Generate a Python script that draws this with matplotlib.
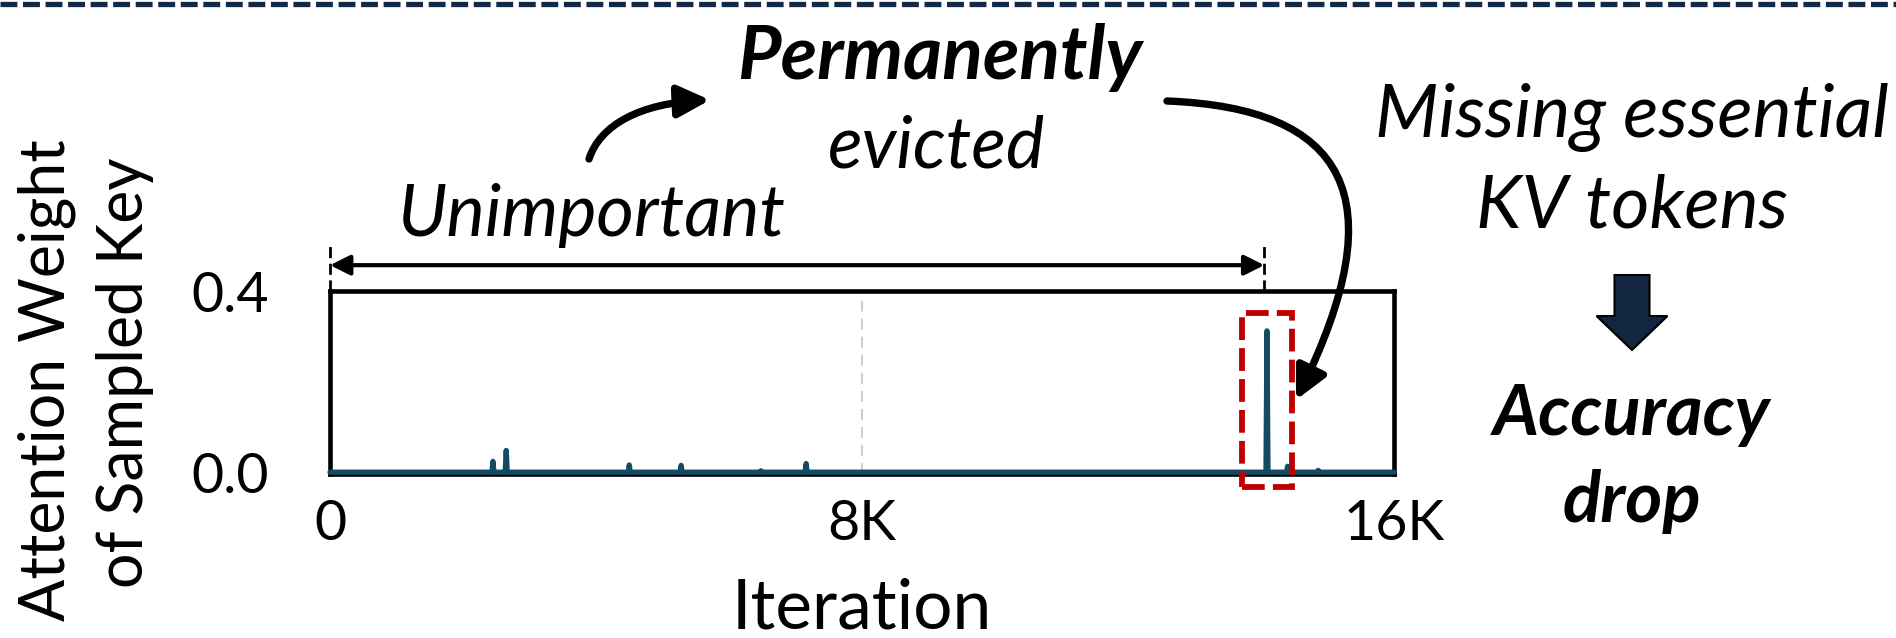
import matplotlib
matplotlib.use('agg')
import matplotlib.pyplot as plt
from matplotlib.patches import FancyArrowPatch, Polygon, Rectangle
from matplotlib.lines import Line2D
from matplotlib.path import Path

plt.rcParams['font.family'] = ['Lato', 'DejaVu Sans']

# spikes: iteration, attention weight
spike_iters = [2450, 2650, 4500, 5280, 6480, 7160, 14090, 14400, 14860]
spike_weights = [0.024, 0.048, 0.016, 0.015, 0.003, 0.019, 0.312, 0.013, 0.004]
iter_max = 16000
xtick_vals = [0, 8000, 16000]
xtick_labels = ['0', '8K', '16K']
ytick_vals = [0.0, 0.4]
ytick_labels = ['0.0', '0.4']

# zero baseline with the spikes on it
half_w = 15
xs, ys = [0], [0.0]
for it, w in zip(spike_iters, spike_weights):
    xs += [it - half_w, it, it + half_w]
    ys += [0.0, w, 0.0]
xs.append(iter_max)
ys.append(0.0)

W, H = 1896, 638
fig = plt.figure(figsize=(W / 100, H / 100), dpi=100)


def px(x, y):
    # full-image pixel (y down) -> figure fraction
    return x / W, 1 - y / H


ax = fig.add_axes([330 / W, 1 - 474 / H, 1064 / W, 183 / H])
ax.plot(xs, ys, color='#154a65', lw=3.8, solid_capstyle='round',
        solid_joinstyle='round', zorder=3, clip_on=False)
ax.axvline(8000, color='#c8c8c8', lw=1.3, ls=(0, (6, 4)), zorder=1)
ax.set_xlim(0, iter_max)
ax.set_ylim(-0.004, 0.4)
ax.set_xticks(xtick_vals)
ax.set_xticklabels(xtick_labels)
ax.set_yticks(ytick_vals)
ax.set_yticklabels(ytick_labels)
ax.tick_params(length=0, labelsize=40)
ax.tick_params(axis='y', pad=44)
ax.tick_params(axis='x', pad=18)
for s in ax.spines.values():
    s.set_linewidth(3.3)
ax.set_xlabel('Iteration', fontsize=50, labelpad=20)

# y label, two lines drawn separately
fig.text(*px(65, 380), 'Attention Weight', rotation=90, rotation_mode='anchor',
         ha='center', va='baseline', fontsize=45)
fig.text(*px(143, 373), 'of Sampled Key', rotation=90, rotation_mode='anchor',
         ha='center', va='baseline', fontsize=45)

# red dashed box around the big spike
ax.add_patch(Rectangle((13710, -0.033), 750, 0.384, fill=False,
                       edgecolor='#c00000', lw=4.2, ls=(0, (3.9, 1.4)),
                       clip_on=False, zorder=4))

# double arrow over the "Unimportant" span
arr_y = 0.457
ax.annotate('', xy=(0, arr_y), xytext=(14050, arr_y),
            xycoords='data', textcoords='data', annotation_clip=False,
            arrowprops=dict(arrowstyle='<|-|>', lw=3, color='black',
                            mutation_scale=30, shrinkA=0, shrinkB=0))
for xv in [0, 14050]:
    ax.add_line(Line2D([xv, xv], [0.4, 0.5], color='black', lw=2,
                       ls=(0, (4, 2)), clip_on=False))

# top dashed separator
fig.add_artist(Line2D([0, 1], [1 - 3.5 / H, 1 - 3.5 / H], color='#112a45',
                      lw=3.8, ls=(0, (3.2, 1.07)), solid_capstyle='butt'))

# texts
fig.text(*px(591, 236), 'Unimportant', style='italic', fontsize=52,
         ha='center', va='baseline')
fig.text(*px(940, 79), 'Permanently', style='italic', weight='bold',
         fontsize=54, ha='center', va='baseline')
fig.text(*px(937, 168), 'evicted', style='italic', fontsize=52,
         ha='center', va='baseline')
fig.text(*px(1632, 137), 'Missing essential', style='italic', fontsize=53,
         ha='center', va='baseline')
fig.text(*px(1632, 227), 'KV tokens', style='italic', fontsize=53,
         ha='center', va='baseline')
fig.text(*px(1632, 435), 'Accuracy', style='italic', weight='bold',
         fontsize=51, ha='center', va='baseline')
fig.text(*px(1632, 522), 'drop', style='italic', weight='bold',
         fontsize=51, ha='center', va='baseline')


def curved_arrow(pts):
    path = Path([px(x, y) for x, y in pts],
                [Path.MOVETO, Path.CURVE4, Path.CURVE4, Path.CURVE4])
    fig.add_artist(FancyArrowPatch(path=path, transform=fig.transFigure,
                                   arrowstyle='-|>,head_length=0.4,head_width=0.2',
                                   lw=5.3, color='black', mutation_scale=48))


curved_arrow([(589, 159), (600, 125), (640, 103), (710, 100)])
curved_arrow([(1167, 101), (1345, 108), (1398, 195), (1296, 400)])

# block down arrow
cx = 1632
pts = [(cx - 17.5, 275), (cx + 17.5, 275), (cx + 17.5, 316), (cx + 35.5, 316),
       (cx, 350), (cx - 35.5, 316), (cx - 17.5, 316)]
fig.add_artist(Polygon([px(x, y) for x, y in pts], closed=True,
                       transform=fig.transFigure, facecolor='#13263f',
                       edgecolor='black', lw=1.5))

fig.savefig('out.png', dpi=100)
